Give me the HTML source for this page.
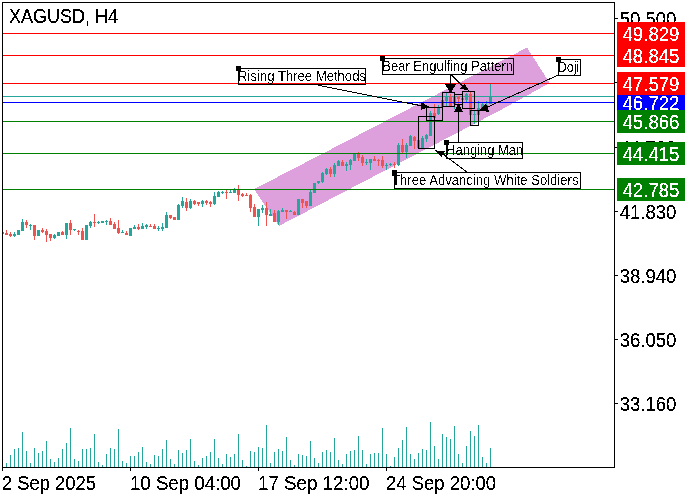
<!DOCTYPE html>
<html><head><meta charset="utf-8"><title>XAGUSD, H4</title>
<style>
html,body{margin:0;padding:0;background:#fff;}
body{width:700px;height:500px;overflow:hidden;position:relative;font-family:"Liberation Sans",sans-serif;}
svg text{font-family:"Liberation Sans",sans-serif;}
</style></head><body>
<svg width="700" height="500" viewBox="0 0 700 500" style="position:absolute;left:0;top:0">
<rect x="0" y="0" width="700" height="500" fill="#fff"/>
<defs><filter id="bw" x="0" y="0" width="100%" height="100%" filterUnits="userSpaceOnUse" primitiveUnits="userSpaceOnUse" color-interpolation-filters="sRGB"><feComponentTransfer><feFuncA type="discrete" tableValues="0 0 1 1 1"/></feComponentTransfer></filter><filter id="bw2" x="0" y="0" width="100%" height="100%" filterUnits="userSpaceOnUse" primitiveUnits="userSpaceOnUse" color-interpolation-filters="sRGB"><feComponentTransfer><feFuncA type="discrete" tableValues="0 0 0 0 0 1 1 1 1"/></feComponentTransfer></filter></defs>
<polygon points="254,189.2 527,47.6 549.6,83 500,110.4 279,225.9" fill="#dda0dd" shape-rendering="crispEdges"/>
<g shape-rendering="crispEdges">
<rect x="3" y="96" width="611" height="1" fill="#26a69a"/>
<rect x="3" y="232" width="1" height="2" fill="#26a69a"/>
<rect x="6" y="230" width="1" height="5" fill="#ef5350"/>
<rect x="5" y="233" width="3" height="2" fill="#ef5350"/>
<rect x="10" y="232" width="1" height="5" fill="#ef5350"/>
<rect x="9" y="234" width="3" height="2" fill="#ef5350"/>
<rect x="14" y="232" width="1" height="5" fill="#26a69a"/>
<rect x="13" y="234" width="3" height="2" fill="#26a69a"/>
<rect x="18" y="230" width="1" height="5" fill="#26a69a"/>
<rect x="17" y="230" width="3" height="5" fill="#26a69a"/>
<rect x="22" y="219" width="1" height="12" fill="#26a69a"/>
<rect x="21" y="222" width="3" height="9" fill="#26a69a"/>
<rect x="26" y="220" width="1" height="8" fill="#ef5350"/>
<rect x="25" y="222" width="3" height="3" fill="#ef5350"/>
<rect x="30" y="224" width="1" height="6" fill="#26a69a"/>
<rect x="29" y="225" width="3" height="1" fill="#26a69a"/>
<rect x="34" y="225" width="1" height="15" fill="#ef5350"/>
<rect x="33" y="225" width="3" height="11" fill="#ef5350"/>
<rect x="38" y="230" width="1" height="6" fill="#26a69a"/>
<rect x="37" y="230" width="3" height="6" fill="#26a69a"/>
<rect x="42" y="228" width="1" height="5" fill="#ef5350"/>
<rect x="41" y="230" width="3" height="2" fill="#ef5350"/>
<rect x="46" y="229" width="1" height="13" fill="#ef5350"/>
<rect x="45" y="231" width="3" height="4" fill="#ef5350"/>
<rect x="50" y="234" width="1" height="7" fill="#ef5350"/>
<rect x="49" y="234" width="3" height="4" fill="#ef5350"/>
<rect x="54" y="234" width="1" height="5" fill="#26a69a"/>
<rect x="53" y="235" width="3" height="3" fill="#26a69a"/>
<rect x="58" y="232" width="1" height="4" fill="#26a69a"/>
<rect x="57" y="232" width="3" height="4" fill="#26a69a"/>
<rect x="62" y="231" width="1" height="4" fill="#ef5350"/>
<rect x="61" y="232" width="3" height="3" fill="#ef5350"/>
<rect x="66" y="223" width="1" height="16" fill="#26a69a"/>
<rect x="65" y="223" width="3" height="12" fill="#26a69a"/>
<rect x="70" y="220" width="1" height="15" fill="#ef5350"/>
<rect x="69" y="223" width="3" height="7" fill="#ef5350"/>
<rect x="74" y="229" width="1" height="2" fill="#26a69a"/>
<rect x="73" y="229" width="3" height="1" fill="#26a69a"/>
<rect x="78" y="230" width="1" height="5" fill="#ef5350"/>
<rect x="77" y="231" width="3" height="1" fill="#ef5350"/>
<rect x="82" y="228" width="1" height="12" fill="#ef5350"/>
<rect x="81" y="231" width="3" height="9" fill="#ef5350"/>
<rect x="86" y="225" width="1" height="15" fill="#26a69a"/>
<rect x="85" y="225" width="3" height="15" fill="#26a69a"/>
<rect x="90" y="221" width="1" height="7" fill="#26a69a"/>
<rect x="89" y="222" width="3" height="4" fill="#26a69a"/>
<rect x="94" y="214" width="1" height="13" fill="#ef5350"/>
<rect x="93" y="222" width="3" height="1" fill="#ef5350"/>
<rect x="98" y="221" width="1" height="3" fill="#26a69a"/>
<rect x="97" y="222" width="3" height="1" fill="#26a69a"/>
<rect x="102" y="221" width="1" height="2" fill="#26a69a"/>
<rect x="101" y="221" width="3" height="2" fill="#26a69a"/>
<rect x="106" y="220" width="1" height="5" fill="#26a69a"/>
<rect x="105" y="221" width="3" height="1" fill="#26a69a"/>
<rect x="110" y="218" width="1" height="7" fill="#ef5350"/>
<rect x="109" y="221" width="3" height="4" fill="#ef5350"/>
<rect x="114" y="222" width="1" height="7" fill="#ef5350"/>
<rect x="113" y="224" width="3" height="5" fill="#ef5350"/>
<rect x="118" y="220" width="1" height="14" fill="#ef5350"/>
<rect x="117" y="228" width="3" height="5" fill="#ef5350"/>
<rect x="122" y="230" width="1" height="3" fill="#26a69a"/>
<rect x="121" y="232" width="3" height="1" fill="#26a69a"/>
<rect x="126" y="231" width="1" height="4" fill="#ef5350"/>
<rect x="125" y="233" width="3" height="2" fill="#ef5350"/>
<rect x="130" y="228" width="1" height="8" fill="#26a69a"/>
<rect x="129" y="228" width="3" height="8" fill="#26a69a"/>
<rect x="134" y="225" width="1" height="4" fill="#26a69a"/>
<rect x="133" y="227" width="3" height="2" fill="#26a69a"/>
<rect x="138" y="224" width="1" height="6" fill="#ef5350"/>
<rect x="137" y="227" width="3" height="2" fill="#ef5350"/>
<rect x="142" y="223" width="1" height="6" fill="#26a69a"/>
<rect x="141" y="226" width="3" height="3" fill="#26a69a"/>
<rect x="146" y="224" width="1" height="5" fill="#26a69a"/>
<rect x="145" y="225" width="3" height="2" fill="#26a69a"/>
<rect x="150" y="224" width="1" height="3" fill="#ef5350"/>
<rect x="149" y="226" width="3" height="1" fill="#ef5350"/>
<rect x="154" y="224" width="1" height="5" fill="#ef5350"/>
<rect x="153" y="226" width="3" height="3" fill="#ef5350"/>
<rect x="158" y="226" width="1" height="5" fill="#26a69a"/>
<rect x="157" y="228" width="3" height="1" fill="#26a69a"/>
<rect x="162" y="223" width="1" height="8" fill="#26a69a"/>
<rect x="161" y="227" width="3" height="2" fill="#26a69a"/>
<rect x="166" y="212" width="1" height="16" fill="#26a69a"/>
<rect x="165" y="215" width="3" height="13" fill="#26a69a"/>
<rect x="170" y="215" width="1" height="4" fill="#ef5350"/>
<rect x="169" y="215" width="3" height="3" fill="#ef5350"/>
<rect x="174" y="217" width="1" height="3" fill="#ef5350"/>
<rect x="173" y="217" width="3" height="3" fill="#ef5350"/>
<rect x="178" y="204" width="1" height="16" fill="#26a69a"/>
<rect x="177" y="205" width="3" height="15" fill="#26a69a"/>
<rect x="182" y="197" width="1" height="11" fill="#26a69a"/>
<rect x="181" y="201" width="3" height="5" fill="#26a69a"/>
<rect x="186" y="198" width="1" height="13" fill="#ef5350"/>
<rect x="185" y="202" width="3" height="6" fill="#ef5350"/>
<rect x="190" y="199" width="1" height="10" fill="#26a69a"/>
<rect x="189" y="201" width="3" height="7" fill="#26a69a"/>
<rect x="194" y="200" width="1" height="5" fill="#ef5350"/>
<rect x="193" y="201" width="3" height="3" fill="#ef5350"/>
<rect x="198" y="202" width="1" height="4" fill="#ef5350"/>
<rect x="197" y="202" width="3" height="2" fill="#ef5350"/>
<rect x="202" y="200" width="1" height="7" fill="#26a69a"/>
<rect x="201" y="201" width="3" height="3" fill="#26a69a"/>
<rect x="206" y="200" width="1" height="5" fill="#ef5350"/>
<rect x="205" y="201" width="3" height="2" fill="#ef5350"/>
<rect x="210" y="201" width="1" height="6" fill="#ef5350"/>
<rect x="209" y="202" width="3" height="2" fill="#ef5350"/>
<rect x="214" y="192" width="1" height="13" fill="#26a69a"/>
<rect x="213" y="196" width="3" height="8" fill="#26a69a"/>
<rect x="218" y="191" width="1" height="6" fill="#26a69a"/>
<rect x="217" y="192" width="3" height="5" fill="#26a69a"/>
<rect x="222" y="191" width="1" height="3" fill="#26a69a"/>
<rect x="221" y="192" width="3" height="1" fill="#26a69a"/>
<rect x="226" y="190" width="1" height="9" fill="#ef5350"/>
<rect x="225" y="192" width="3" height="1" fill="#ef5350"/>
<rect x="230" y="190" width="1" height="3" fill="#26a69a"/>
<rect x="229" y="192" width="3" height="1" fill="#26a69a"/>
<rect x="234" y="188" width="1" height="5" fill="#26a69a"/>
<rect x="233" y="190" width="3" height="3" fill="#26a69a"/>
<rect x="238" y="185" width="1" height="16" fill="#ef5350"/>
<rect x="237" y="189" width="3" height="6" fill="#ef5350"/>
<rect x="242" y="193" width="1" height="4" fill="#ef5350"/>
<rect x="241" y="194" width="3" height="2" fill="#ef5350"/>
<rect x="246" y="193" width="1" height="3" fill="#ef5350"/>
<rect x="245" y="195" width="3" height="1" fill="#ef5350"/>
<rect x="250" y="194" width="1" height="18" fill="#ef5350"/>
<rect x="249" y="195" width="3" height="13" fill="#ef5350"/>
<rect x="254" y="204" width="1" height="13" fill="#ef5350"/>
<rect x="253" y="207" width="3" height="10" fill="#ef5350"/>
<rect x="258" y="209" width="1" height="17" fill="#26a69a"/>
<rect x="257" y="209" width="3" height="8" fill="#26a69a"/>
<rect x="262" y="205" width="1" height="8" fill="#26a69a"/>
<rect x="261" y="208" width="3" height="2" fill="#26a69a"/>
<rect x="266" y="202" width="1" height="24" fill="#ef5350"/>
<rect x="265" y="208" width="3" height="7" fill="#ef5350"/>
<rect x="270" y="209" width="1" height="7" fill="#26a69a"/>
<rect x="269" y="214" width="3" height="2" fill="#26a69a"/>
<rect x="274" y="210" width="1" height="12" fill="#ef5350"/>
<rect x="273" y="213" width="3" height="9" fill="#ef5350"/>
<rect x="278" y="210" width="1" height="15" fill="#26a69a"/>
<rect x="277" y="211" width="3" height="11" fill="#26a69a"/>
<rect x="282" y="208" width="1" height="4" fill="#26a69a"/>
<rect x="281" y="210" width="3" height="2" fill="#26a69a"/>
<rect x="286" y="210" width="1" height="9" fill="#ef5350"/>
<rect x="285" y="210" width="3" height="2" fill="#ef5350"/>
<rect x="290" y="210" width="1" height="2" fill="#26a69a"/>
<rect x="289" y="211" width="3" height="1" fill="#26a69a"/>
<rect x="294" y="211" width="1" height="4" fill="#ef5350"/>
<rect x="293" y="212" width="3" height="3" fill="#ef5350"/>
<rect x="298" y="199" width="1" height="16" fill="#26a69a"/>
<rect x="297" y="199" width="3" height="16" fill="#26a69a"/>
<rect x="302" y="199" width="1" height="9" fill="#ef5350"/>
<rect x="301" y="199" width="3" height="4" fill="#ef5350"/>
<rect x="306" y="201" width="1" height="7" fill="#ef5350"/>
<rect x="305" y="201" width="3" height="5" fill="#ef5350"/>
<rect x="310" y="190" width="1" height="16" fill="#26a69a"/>
<rect x="309" y="192" width="3" height="14" fill="#26a69a"/>
<rect x="314" y="183" width="1" height="10" fill="#26a69a"/>
<rect x="313" y="183" width="3" height="10" fill="#26a69a"/>
<rect x="318" y="181" width="1" height="3" fill="#26a69a"/>
<rect x="317" y="181" width="3" height="2" fill="#26a69a"/>
<rect x="322" y="172" width="1" height="11" fill="#26a69a"/>
<rect x="321" y="173" width="3" height="9" fill="#26a69a"/>
<rect x="326" y="168" width="1" height="7" fill="#26a69a"/>
<rect x="325" y="169" width="3" height="5" fill="#26a69a"/>
<rect x="330" y="167" width="1" height="10" fill="#ef5350"/>
<rect x="329" y="169" width="3" height="5" fill="#ef5350"/>
<rect x="334" y="163" width="1" height="14" fill="#26a69a"/>
<rect x="333" y="165" width="3" height="9" fill="#26a69a"/>
<rect x="338" y="160" width="1" height="6" fill="#26a69a"/>
<rect x="337" y="161" width="3" height="5" fill="#26a69a"/>
<rect x="342" y="160" width="1" height="6" fill="#ef5350"/>
<rect x="341" y="162" width="3" height="4" fill="#ef5350"/>
<rect x="346" y="162" width="1" height="9" fill="#26a69a"/>
<rect x="345" y="164" width="3" height="2" fill="#26a69a"/>
<rect x="350" y="159" width="1" height="11" fill="#26a69a"/>
<rect x="349" y="160" width="3" height="5" fill="#26a69a"/>
<rect x="354" y="154" width="1" height="7" fill="#26a69a"/>
<rect x="353" y="154" width="3" height="7" fill="#26a69a"/>
<rect x="358" y="152" width="1" height="9" fill="#ef5350"/>
<rect x="357" y="154" width="3" height="4" fill="#ef5350"/>
<rect x="362" y="155" width="1" height="11" fill="#ef5350"/>
<rect x="361" y="157" width="3" height="6" fill="#ef5350"/>
<rect x="366" y="159" width="1" height="6" fill="#26a69a"/>
<rect x="365" y="162" width="3" height="1" fill="#26a69a"/>
<rect x="370" y="159" width="1" height="11" fill="#26a69a"/>
<rect x="369" y="159" width="3" height="4" fill="#26a69a"/>
<rect x="374" y="156" width="1" height="5" fill="#ef5350"/>
<rect x="373" y="159" width="3" height="2" fill="#ef5350"/>
<rect x="378" y="159" width="1" height="7" fill="#ef5350"/>
<rect x="377" y="160" width="3" height="1" fill="#ef5350"/>
<rect x="382" y="156" width="1" height="12" fill="#ef5350"/>
<rect x="381" y="160" width="3" height="6" fill="#ef5350"/>
<rect x="386" y="163" width="1" height="7" fill="#26a69a"/>
<rect x="385" y="165" width="3" height="1" fill="#26a69a"/>
<rect x="390" y="163" width="1" height="3" fill="#26a69a"/>
<rect x="389" y="164" width="3" height="1" fill="#26a69a"/>
<rect x="394" y="162" width="1" height="6" fill="#ef5350"/>
<rect x="393" y="164" width="3" height="1" fill="#ef5350"/>
<rect x="398" y="143" width="1" height="23" fill="#26a69a"/>
<rect x="397" y="145" width="3" height="20" fill="#26a69a"/>
<rect x="402" y="139" width="1" height="14" fill="#ef5350"/>
<rect x="401" y="145" width="3" height="7" fill="#ef5350"/>
<rect x="406" y="143" width="1" height="15" fill="#26a69a"/>
<rect x="405" y="145" width="3" height="7" fill="#26a69a"/>
<rect x="410" y="135" width="1" height="11" fill="#26a69a"/>
<rect x="409" y="136" width="3" height="10" fill="#26a69a"/>
<rect x="414" y="136" width="1" height="13" fill="#ef5350"/>
<rect x="413" y="137" width="3" height="4" fill="#ef5350"/>
<rect x="418" y="140" width="1" height="8" fill="#ef5350"/>
<rect x="417" y="140" width="3" height="8" fill="#ef5350"/>
<rect x="422" y="136" width="1" height="12" fill="#26a69a"/>
<rect x="421" y="138" width="3" height="10" fill="#26a69a"/>
<rect x="426" y="134" width="1" height="8" fill="#26a69a"/>
<rect x="425" y="135" width="3" height="4" fill="#26a69a"/>
<rect x="430" y="111" width="1" height="25" fill="#26a69a"/>
<rect x="429" y="113" width="3" height="23" fill="#26a69a"/>
<rect x="434" y="104" width="1" height="15" fill="#ef5350"/>
<rect x="433" y="113" width="3" height="5" fill="#ef5350"/>
<rect x="438" y="105" width="1" height="10" fill="#26a69a"/>
<rect x="437" y="107" width="3" height="7" fill="#26a69a"/>
<rect x="442" y="99" width="1" height="9" fill="#26a69a"/>
<rect x="441" y="100" width="3" height="7" fill="#26a69a"/>
<rect x="446" y="93" width="1" height="13" fill="#26a69a"/>
<rect x="445" y="96" width="3" height="5" fill="#26a69a"/>
<rect x="450" y="94" width="1" height="13" fill="#ef5350"/>
<rect x="449" y="97" width="3" height="9" fill="#ef5350"/>
<rect x="454" y="96" width="1" height="13" fill="#26a69a"/>
<rect x="453" y="97" width="3" height="7" fill="#26a69a"/>
<rect x="458" y="96" width="1" height="8" fill="#ef5350"/>
<rect x="457" y="96" width="3" height="3" fill="#ef5350"/>
<rect x="462" y="98" width="1" height="2" fill="#ef5350"/>
<rect x="461" y="98" width="3" height="2" fill="#ef5350"/>
<rect x="466" y="93" width="1" height="9" fill="#26a69a"/>
<rect x="465" y="94" width="3" height="6" fill="#26a69a"/>
<rect x="470" y="92" width="1" height="23" fill="#ef5350"/>
<rect x="469" y="94" width="3" height="21" fill="#ef5350"/>
<rect x="474" y="111" width="1" height="13" fill="#26a69a"/>
<rect x="473" y="114" width="3" height="1" fill="#26a69a"/>
<rect x="478" y="101" width="1" height="14" fill="#26a69a"/>
<rect x="477" y="108" width="3" height="7" fill="#26a69a"/>
<rect x="482" y="103" width="1" height="8" fill="#26a69a"/>
<rect x="481" y="104" width="3" height="5" fill="#26a69a"/>
<rect x="486" y="101" width="1" height="10" fill="#26a69a"/>
<rect x="485" y="105" width="3" height="4" fill="#26a69a"/>
<rect x="490" y="84" width="1" height="20" fill="#26a69a"/>
<rect x="489" y="97" width="3" height="7" fill="#26a69a"/>
<rect x="6" y="463" width="1" height="4" fill="#26a69a"/>
<rect x="10" y="455" width="1" height="12" fill="#26a69a"/>
<rect x="14" y="449" width="1" height="18" fill="#26a69a"/>
<rect x="18" y="448" width="1" height="19" fill="#26a69a"/>
<rect x="22" y="432" width="1" height="35" fill="#26a69a"/>
<rect x="26" y="451" width="1" height="16" fill="#26a69a"/>
<rect x="30" y="463" width="1" height="4" fill="#26a69a"/>
<rect x="34" y="448" width="1" height="19" fill="#26a69a"/>
<rect x="38" y="453" width="1" height="14" fill="#26a69a"/>
<rect x="42" y="451" width="1" height="16" fill="#26a69a"/>
<rect x="46" y="441" width="1" height="26" fill="#26a69a"/>
<rect x="50" y="459" width="1" height="8" fill="#26a69a"/>
<rect x="54" y="462" width="1" height="5" fill="#26a69a"/>
<rect x="58" y="458" width="1" height="9" fill="#26a69a"/>
<rect x="62" y="449" width="1" height="18" fill="#26a69a"/>
<rect x="66" y="443" width="1" height="24" fill="#26a69a"/>
<rect x="70" y="428" width="1" height="39" fill="#26a69a"/>
<rect x="74" y="459" width="1" height="8" fill="#26a69a"/>
<rect x="78" y="461" width="1" height="6" fill="#26a69a"/>
<rect x="82" y="449" width="1" height="18" fill="#26a69a"/>
<rect x="86" y="449" width="1" height="18" fill="#26a69a"/>
<rect x="90" y="448" width="1" height="19" fill="#26a69a"/>
<rect x="94" y="434" width="1" height="33" fill="#26a69a"/>
<rect x="98" y="462" width="1" height="5" fill="#26a69a"/>
<rect x="102" y="465" width="1" height="2" fill="#26a69a"/>
<rect x="106" y="454" width="1" height="13" fill="#26a69a"/>
<rect x="110" y="448" width="1" height="19" fill="#26a69a"/>
<rect x="114" y="449" width="1" height="18" fill="#26a69a"/>
<rect x="118" y="429" width="1" height="38" fill="#26a69a"/>
<rect x="122" y="461" width="1" height="6" fill="#26a69a"/>
<rect x="126" y="463" width="1" height="4" fill="#26a69a"/>
<rect x="130" y="456" width="1" height="11" fill="#26a69a"/>
<rect x="134" y="456" width="1" height="11" fill="#26a69a"/>
<rect x="138" y="452" width="1" height="15" fill="#26a69a"/>
<rect x="142" y="447" width="1" height="20" fill="#26a69a"/>
<rect x="146" y="462" width="1" height="5" fill="#26a69a"/>
<rect x="150" y="464" width="1" height="3" fill="#26a69a"/>
<rect x="154" y="455" width="1" height="12" fill="#26a69a"/>
<rect x="158" y="456" width="1" height="11" fill="#26a69a"/>
<rect x="162" y="449" width="1" height="18" fill="#26a69a"/>
<rect x="166" y="440" width="1" height="27" fill="#26a69a"/>
<rect x="170" y="459" width="1" height="8" fill="#26a69a"/>
<rect x="174" y="464" width="1" height="3" fill="#26a69a"/>
<rect x="178" y="450" width="1" height="17" fill="#26a69a"/>
<rect x="182" y="453" width="1" height="14" fill="#26a69a"/>
<rect x="186" y="450" width="1" height="17" fill="#26a69a"/>
<rect x="190" y="439" width="1" height="28" fill="#26a69a"/>
<rect x="194" y="461" width="1" height="6" fill="#26a69a"/>
<rect x="198" y="465" width="1" height="2" fill="#26a69a"/>
<rect x="202" y="458" width="1" height="9" fill="#26a69a"/>
<rect x="206" y="456" width="1" height="11" fill="#26a69a"/>
<rect x="210" y="452" width="1" height="15" fill="#26a69a"/>
<rect x="214" y="439" width="1" height="28" fill="#26a69a"/>
<rect x="218" y="458" width="1" height="9" fill="#26a69a"/>
<rect x="222" y="464" width="1" height="3" fill="#26a69a"/>
<rect x="226" y="454" width="1" height="13" fill="#26a69a"/>
<rect x="230" y="457" width="1" height="10" fill="#26a69a"/>
<rect x="234" y="454" width="1" height="13" fill="#26a69a"/>
<rect x="238" y="434" width="1" height="33" fill="#26a69a"/>
<rect x="242" y="460" width="1" height="7" fill="#26a69a"/>
<rect x="246" y="466" width="1" height="1" fill="#26a69a"/>
<rect x="250" y="451" width="1" height="16" fill="#26a69a"/>
<rect x="254" y="452" width="1" height="15" fill="#26a69a"/>
<rect x="258" y="447" width="1" height="20" fill="#26a69a"/>
<rect x="262" y="448" width="1" height="19" fill="#26a69a"/>
<rect x="266" y="425" width="1" height="42" fill="#26a69a"/>
<rect x="270" y="463" width="1" height="4" fill="#26a69a"/>
<rect x="274" y="452" width="1" height="15" fill="#26a69a"/>
<rect x="278" y="449" width="1" height="18" fill="#26a69a"/>
<rect x="282" y="451" width="1" height="16" fill="#26a69a"/>
<rect x="286" y="437" width="1" height="30" fill="#26a69a"/>
<rect x="290" y="460" width="1" height="7" fill="#26a69a"/>
<rect x="294" y="465" width="1" height="2" fill="#26a69a"/>
<rect x="298" y="454" width="1" height="13" fill="#26a69a"/>
<rect x="302" y="455" width="1" height="12" fill="#26a69a"/>
<rect x="306" y="456" width="1" height="11" fill="#26a69a"/>
<rect x="310" y="441" width="1" height="26" fill="#26a69a"/>
<rect x="314" y="458" width="1" height="9" fill="#26a69a"/>
<rect x="318" y="463" width="1" height="4" fill="#26a69a"/>
<rect x="322" y="452" width="1" height="15" fill="#26a69a"/>
<rect x="326" y="450" width="1" height="17" fill="#26a69a"/>
<rect x="330" y="452" width="1" height="15" fill="#26a69a"/>
<rect x="334" y="438" width="1" height="29" fill="#26a69a"/>
<rect x="338" y="460" width="1" height="7" fill="#26a69a"/>
<rect x="342" y="464" width="1" height="3" fill="#26a69a"/>
<rect x="346" y="454" width="1" height="13" fill="#26a69a"/>
<rect x="350" y="451" width="1" height="16" fill="#26a69a"/>
<rect x="354" y="450" width="1" height="17" fill="#26a69a"/>
<rect x="358" y="436" width="1" height="31" fill="#26a69a"/>
<rect x="362" y="450" width="1" height="17" fill="#26a69a"/>
<rect x="366" y="464" width="1" height="3" fill="#26a69a"/>
<rect x="370" y="454" width="1" height="13" fill="#26a69a"/>
<rect x="374" y="453" width="1" height="14" fill="#26a69a"/>
<rect x="378" y="453" width="1" height="14" fill="#26a69a"/>
<rect x="382" y="428" width="1" height="39" fill="#26a69a"/>
<rect x="386" y="454" width="1" height="13" fill="#26a69a"/>
<rect x="390" y="466" width="1" height="1" fill="#26a69a"/>
<rect x="394" y="457" width="1" height="10" fill="#26a69a"/>
<rect x="398" y="448" width="1" height="19" fill="#26a69a"/>
<rect x="402" y="440" width="1" height="27" fill="#26a69a"/>
<rect x="406" y="427" width="1" height="40" fill="#26a69a"/>
<rect x="410" y="454" width="1" height="13" fill="#26a69a"/>
<rect x="414" y="459" width="1" height="8" fill="#26a69a"/>
<rect x="418" y="453" width="1" height="14" fill="#26a69a"/>
<rect x="422" y="449" width="1" height="18" fill="#26a69a"/>
<rect x="426" y="450" width="1" height="17" fill="#26a69a"/>
<rect x="430" y="422" width="1" height="45" fill="#26a69a"/>
<rect x="434" y="446" width="1" height="21" fill="#26a69a"/>
<rect x="438" y="459" width="1" height="8" fill="#26a69a"/>
<rect x="442" y="434" width="1" height="33" fill="#26a69a"/>
<rect x="446" y="437" width="1" height="30" fill="#26a69a"/>
<rect x="450" y="439" width="1" height="28" fill="#26a69a"/>
<rect x="454" y="426" width="1" height="41" fill="#26a69a"/>
<rect x="458" y="454" width="1" height="13" fill="#26a69a"/>
<rect x="462" y="463" width="1" height="4" fill="#26a69a"/>
<rect x="466" y="446" width="1" height="21" fill="#26a69a"/>
<rect x="470" y="431" width="1" height="36" fill="#26a69a"/>
<rect x="474" y="436" width="1" height="31" fill="#26a69a"/>
<rect x="478" y="425" width="1" height="42" fill="#26a69a"/>
<rect x="482" y="457" width="1" height="10" fill="#26a69a"/>
<rect x="486" y="463" width="1" height="4" fill="#26a69a"/>
<rect x="490" y="448" width="1" height="19" fill="#26a69a"/>
<rect x="3" y="33" width="611" height="1" fill="#ff0000"/>
<rect x="3" y="55" width="611" height="1" fill="#ff0000"/>
<rect x="3" y="83" width="611" height="1" fill="#ff0000"/>
<rect x="3" y="102" width="611" height="1" fill="#0000ff"/>
<rect x="3" y="121" width="611" height="1" fill="#008000"/>
<rect x="3" y="153" width="611" height="1" fill="#008000"/>
<rect x="3" y="189" width="611" height="1" fill="#008000"/>
<rect x="2" y="2" width="613" height="1" fill="#000"/>
<rect x="2" y="2" width="1" height="469" fill="#000"/>
<rect x="2" y="467" width="613" height="1" fill="#000"/>
<rect x="614" y="2" width="1" height="466" fill="#000"/>
<rect x="130" y="468" width="1" height="3" fill="#000"/>
<rect x="258" y="468" width="1" height="3" fill="#000"/>
<rect x="386" y="468" width="1" height="3" fill="#000"/>
<rect x="615" y="18" width="3" height="1" fill="#000"/>
<rect x="615" y="82" width="3" height="1" fill="#000"/>
<rect x="615" y="147" width="3" height="1" fill="#000"/>
<rect x="615" y="211" width="3" height="1" fill="#000"/>
<rect x="615" y="275" width="3" height="1" fill="#000"/>
<rect x="615" y="339" width="3" height="1" fill="#000"/>
<rect x="615" y="403" width="3" height="1" fill="#000"/>
</g>
<text filter="url(#bw)" x="619.8" y="26" font-size="19.5" textLength="56.6" lengthAdjust="spacingAndGlyphs" fill="#000">50.500</text>
<text filter="url(#bw)" x="619.8" y="90" font-size="19.5" textLength="56.6" lengthAdjust="spacingAndGlyphs" fill="#000">47.610</text>
<text filter="url(#bw)" x="619.8" y="155" font-size="19.5" textLength="56.6" lengthAdjust="spacingAndGlyphs" fill="#000">44.720</text>
<text filter="url(#bw)" x="619.8" y="219" font-size="19.5" textLength="56.6" lengthAdjust="spacingAndGlyphs" fill="#000">41.830</text>
<text filter="url(#bw)" x="619.8" y="283" font-size="19.5" textLength="56.6" lengthAdjust="spacingAndGlyphs" fill="#000">38.940</text>
<text filter="url(#bw)" x="619.8" y="347" font-size="19.5" textLength="56.6" lengthAdjust="spacingAndGlyphs" fill="#000">36.050</text>
<text filter="url(#bw)" x="619.8" y="411" font-size="19.5" textLength="56.6" lengthAdjust="spacingAndGlyphs" fill="#000">33.160</text>
<rect x="617" y="91" width="68" height="23" fill="#0000ff" shape-rendering="crispEdges"/>
<text filter="url(#bw)" x="622.5" y="110" font-size="19.5" textLength="57" lengthAdjust="spacingAndGlyphs" fill="#fff">46.722</text>
<rect x="617" y="22" width="68" height="23" fill="#ff0000" shape-rendering="crispEdges"/>
<text filter="url(#bw)" x="622.5" y="41" font-size="19.5" textLength="57" lengthAdjust="spacingAndGlyphs" fill="#fff">49.829</text>
<rect x="617" y="44" width="68" height="23" fill="#ff0000" shape-rendering="crispEdges"/>
<text filter="url(#bw)" x="622.5" y="63" font-size="19.5" textLength="57" lengthAdjust="spacingAndGlyphs" fill="#fff">48.845</text>
<rect x="617" y="72" width="68" height="23" fill="#ff0000" shape-rendering="crispEdges"/>
<text filter="url(#bw)" x="622.5" y="91" font-size="19.5" textLength="57" lengthAdjust="spacingAndGlyphs" fill="#fff">47.579</text>
<rect x="617" y="110" width="68" height="23" fill="#008000" shape-rendering="crispEdges"/>
<text filter="url(#bw)" x="622.5" y="129" font-size="19.5" textLength="57" lengthAdjust="spacingAndGlyphs" fill="#fff">45.866</text>
<rect x="617" y="142" width="68" height="23" fill="#008000" shape-rendering="crispEdges"/>
<text filter="url(#bw)" x="622.5" y="161" font-size="19.5" textLength="57" lengthAdjust="spacingAndGlyphs" fill="#fff">44.415</text>
<rect x="617" y="178" width="68" height="23" fill="#008000" shape-rendering="crispEdges"/>
<text filter="url(#bw)" x="622.5" y="197" font-size="19.5" textLength="57" lengthAdjust="spacingAndGlyphs" fill="#fff">42.785</text>
<text filter="url(#bw)" x="9" y="23" font-size="19.5" textLength="109" lengthAdjust="spacingAndGlyphs" fill="#000">XAGUSD, H4</text>
<text filter="url(#bw)" x="2" y="490" font-size="19.5" textLength="94" lengthAdjust="spacingAndGlyphs" fill="#000">2 Sep 2025</text>
<text filter="url(#bw)" x="130" y="490" font-size="19.5" textLength="111" lengthAdjust="spacingAndGlyphs" fill="#000">10 Sep 04:00</text>
<text filter="url(#bw)" x="258" y="490" font-size="19.5" textLength="111.5" lengthAdjust="spacingAndGlyphs" fill="#000">17 Sep 12:00</text>
<text filter="url(#bw)" x="386" y="490" font-size="19.5" textLength="110" lengthAdjust="spacingAndGlyphs" fill="#000">24 Sep 20:00</text>
<g shape-rendering="crispEdges" fill="none" stroke="#000" stroke-width="1">
<rect x="418.5" y="116.5" width="16" height="32"/>
<rect x="426.5" y="107.5" width="16" height="13"/>
<rect x="442.5" y="92.5" width="12" height="14"/>
<rect x="462.5" y="91.5" width="12" height="17"/>
<rect x="470.5" y="110.5" width="8" height="15"/>
<rect x="454.5" y="94.5" width="8" height="10"/>
</g>
<g stroke="#000" stroke-width="1" fill="#000" shape-rendering="crispEdges">
<line x1="318" y1="85.2" x2="424" y2="106.3"/>
<line x1="450.5" y1="74" x2="450.5" y2="86"/>
<line x1="451" y1="74.5" x2="463" y2="86.5"/>
<line x1="458.5" y1="142" x2="458.5" y2="110"/>
<line x1="558" y1="75.2" x2="487" y2="107.2"/>
<line x1="467" y1="172" x2="443" y2="154"/>
<polygon stroke="none" points="421,102 421,110 429.5,107"/>
<polygon stroke="none" points="445,84 456,84 450.5,93.5"/>
<polygon stroke="none" points="464.5,84 460,88.5 469.5,91"/>
<polygon stroke="none" points="454,112 463,112 458.5,103.5"/>
<polygon stroke="none" points="479,110.8 486,103.5 489.2,111.8"/>
<polygon stroke="none" points="435,150.3 445.3,151.3 441.4,157"/>
</g>
<rect x="238.5" y="68.5" width="127" height="16" fill="none" stroke="#000" shape-rendering="crispEdges"/>
<rect x="236" y="66" width="5" height="5" fill="#000" shape-rendering="crispEdges"/>
<text filter="url(#bw2)" x="238.1" y="81" font-size="14.5" textLength="127.9" lengthAdjust="spacingAndGlyphs" fill="#000">Rising Three Methods</text>
<rect x="382.5" y="58.5" width="131" height="16" fill="none" stroke="#000" shape-rendering="crispEdges"/>
<rect x="380" y="56" width="5" height="5" fill="#000" shape-rendering="crispEdges"/>
<text filter="url(#bw2)" x="382.3" y="71" font-size="14.5" textLength="130.8" lengthAdjust="spacingAndGlyphs" fill="#000">Bear Engulfing Pattern</text>
<rect x="558.5" y="59.5" width="22" height="16" fill="none" stroke="#000" shape-rendering="crispEdges"/>
<rect x="556" y="57" width="5" height="5" fill="#000" shape-rendering="crispEdges"/>
<text filter="url(#bw2)" x="557.8" y="72" font-size="14.5" textLength="21.6" lengthAdjust="spacingAndGlyphs" fill="#000">Doji</text>
<rect x="446.5" y="142.5" width="76" height="16" fill="none" stroke="#000" shape-rendering="crispEdges"/>
<rect x="444" y="140" width="5" height="5" fill="#000" shape-rendering="crispEdges"/>
<text filter="url(#bw2)" x="446.2" y="155" font-size="14.5" textLength="77" lengthAdjust="spacingAndGlyphs" fill="#000">Hanging Man</text>
<rect x="394.5" y="172.5" width="186" height="16" fill="none" stroke="#000" shape-rendering="crispEdges"/>
<rect x="392" y="170" width="5" height="5" fill="#000" shape-rendering="crispEdges"/>
<text filter="url(#bw2)" x="392" y="185" font-size="14.5" textLength="186.5" lengthAdjust="spacingAndGlyphs" fill="#000">Three Advancing White Soldiers</text>
</svg>
</body></html>
